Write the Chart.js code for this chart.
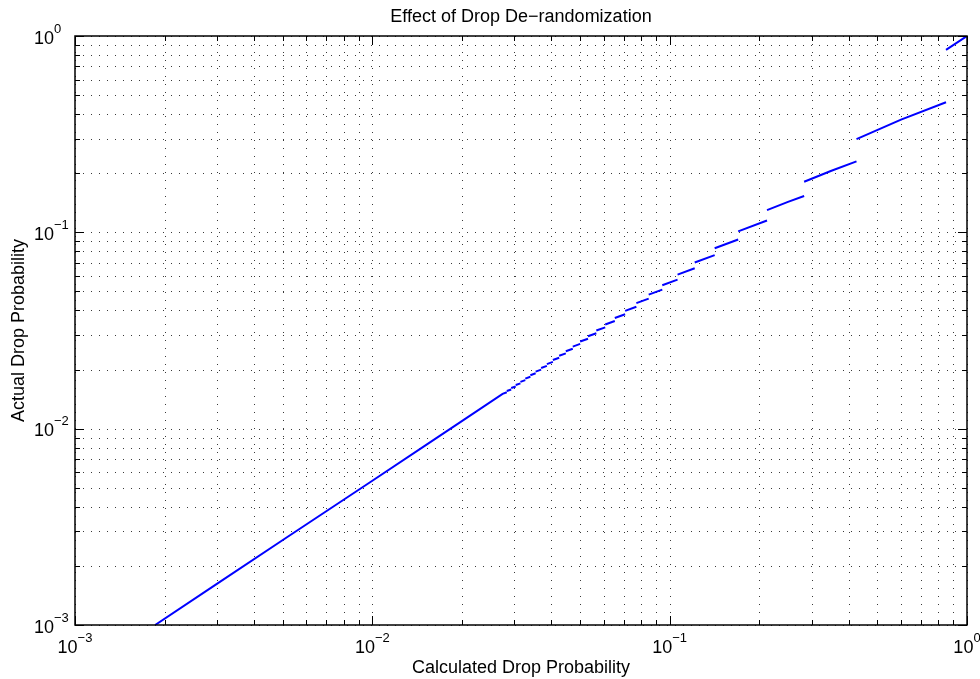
<!DOCTYPE html>
<html>
<head>
<meta charset="utf-8">
<title>Effect of Drop De-randomization</title>
<script src="https://cdn.jsdelivr.net/npm/chart.js@4.4.1/dist/chart.umd.min.js"></script>
<style>
  html, body { margin: 0; padding: 0; background: #fff; }
  #wrap { width: 980px; height: 679px; position: relative; }
</style>
</head>
<body>
<div id="wrap"><canvas id="derandChart"></canvas></div>
<script>
// calculated drop probability (x) and actual drop probability (y)
// a null in actualProb ends one piece of the curve
var calcProb = [
  0.00186, 0.003, 0.005, 0.01, 0.015, 0.02, 0.02742, 0.02833, 0.02833,
  0.02833, 0.02931, 0.02931,
  0.02931, 0.03036, 0.03036,
  0.03036, 0.03148, 0.03148,
  0.03148, 0.03269, 0.03269,
  0.03269, 0.034, 0.034,
  0.034, 0.03542, 0.03542,
  0.03542, 0.03696, 0.03696,
  0.03696, 0.03864, 0.03864,
  0.03864, 0.04048, 0.04048,
  0.04048, 0.0425, 0.0425,
  0.0425, 0.04474, 0.04474,
  0.04474, 0.04722, 0.04722,
  0.04722, 0.05, 0.05,
  0.05, 0.05313, 0.05313,
  0.05313, 0.05667, 0.05667,
  0.05667, 0.06071, 0.06071,
  0.06071, 0.06538, 0.06538,
  0.06538, 0.07083, 0.07083,
  0.07083, 0.07727, 0.07727,
  0.07727, 0.085, 0.085,
  0.085, 0.09444, 0.09444,
  0.09444, 0.1063, 0.1063,
  0.1063, 0.1214, 0.1214,
  0.1214, 0.1417, 0.1417,
  0.1417, 0.17, 0.17,
  0.17, 0.2125, 0.2125,
  0.2125, 0.25, 0.2833, 0.2833,
  0.2833, 0.35, 0.425, 0.425,
  0.425, 0.6, 0.85, 0.85,
  0.85, 1
];
var actualProb = [
  0.00100, 0.00162, 0.00271, 0.00543, 0.00817, 0.01092, 0.01504, 0.01532, null,
  0.01555, 0.01584, null,
  0.01610, 0.01641, null,
  0.01668, 0.01702, null,
  0.01731, 0.01767, null,
  0.01799, 0.01838, null,
  0.01872, 0.01914, null,
  0.01952, 0.01998, null,
  0.02038, 0.02089, null,
  0.02133, 0.02188, null,
  0.02237, 0.02297, null,
  0.02351, 0.02418, null,
  0.02478, 0.02553, null,
  0.02619, 0.02703, null,
  0.02778, 0.02872, null,
  0.02957, 0.03063, null,
  0.03160, 0.03282, null,
  0.03393, 0.03534, null,
  0.03664, 0.03829, null,
  0.03981, 0.04177, null,
  0.04359, 0.04595, null,
  0.04816, 0.05105, null,
  0.05380, 0.05743, null,
  0.06093, 0.06564, null,
  0.07025, 0.07658, null,
  0.08293, 0.09189, null,
  0.1012, 0.1149, null,
  0.1298, 0.1429, 0.1532, null,
  0.1809, 0.2059, 0.2297, null,
  0.2982, 0.375, 0.4595, null,
  0.85, 1
];

// axis decades and their exponents, minor steps inside each decade
var decades = [0.001, 0.01, 0.1, 1];
var decadeExp = ['\u22123', '\u22122', '\u22121', '0'];
var minorSteps = [2, 3, 4, 5, 6, 7, 8, 9];

var FONT = '"Liberation Sans", Arial, Helvetica, sans-serif';

var points = calcProb.map(function (x, i) {
  return { x: x, y: actualProb[i] };
});

// all tick positions: decades are major, the rest minor
var logTicks = [];
for (var d = 0; d < decades.length; d++) {
  logTicks.push({ v: decades[d], major: true });
  if (d < decades.length - 1) {
    minorSteps.forEach(function (m) {
      logTicks.push({ v: decades[d] * m, major: false });
    });
  }
}

// matlab style frame: dotted grid, inward ticks on every side, 10^n labels
var matlabAxes = {
  id: 'matlabAxes',
  beforeDatasetsDraw: function (chart) {
    var ctx = chart.ctx, a = chart.chartArea;
    var xs = chart.scales.x, ys = chart.scales.y;
    ctx.save();
    ctx.strokeStyle = '#3a3a3a';
    ctx.lineWidth = 1;
    ctx.setLineDash([1, 7]);
    logTicks.forEach(function (t) {
      var px = Math.round(xs.getPixelForValue(t.v)) + 0.5;
      ctx.beginPath();
      ctx.moveTo(px, a.top);
      ctx.lineTo(px, a.bottom);
      ctx.stroke();
      var py = Math.round(ys.getPixelForValue(t.v)) + 0.5;
      ctx.beginPath();
      ctx.moveTo(a.left, py);
      ctx.lineTo(a.right, py);
      ctx.stroke();
    });
    ctx.restore();
  },
  afterDatasetsDraw: function (chart) {
    var ctx = chart.ctx, a = chart.chartArea;
    var xs = chart.scales.x, ys = chart.scales.y;
    ctx.save();
    ctx.setLineDash([]);
    ctx.strokeStyle = '#000';

    // ticks
    ctx.lineWidth = 1;
    logTicks.forEach(function (t) {
      var len = t.major ? 9 : 5;
      var px = Math.round(xs.getPixelForValue(t.v)) + 0.5;
      var py = Math.round(ys.getPixelForValue(t.v)) + 0.5;
      ctx.beginPath();
      ctx.moveTo(px, a.bottom); ctx.lineTo(px, a.bottom - len);
      ctx.moveTo(px, a.top); ctx.lineTo(px, a.top + len);
      ctx.moveTo(a.left, py); ctx.lineTo(a.left + len, py);
      ctx.moveTo(a.right, py); ctx.lineTo(a.right - len, py);
      ctx.stroke();
    });

    // box
    ctx.lineWidth = 1.5;
    ctx.strokeRect(a.left, a.top, a.right - a.left, a.bottom - a.top);

    // tick labels
    ctx.fillStyle = '#000';
    ctx.textBaseline = 'alphabetic';
    ctx.textAlign = 'left';
    decades.forEach(function (v, i) {
      ctx.font = '18px ' + FONT;
      var wBase = ctx.measureText('10').width;
      ctx.font = '13px ' + FONT;
      var wExp = ctx.measureText(decadeExp[i]).width;

      var px = xs.getPixelForValue(v);
      var sx = px - (wBase + wExp) / 2;
      ctx.font = '18px ' + FONT;
      ctx.fillText('10', sx, a.bottom + 28);
      ctx.font = '13px ' + FONT;
      ctx.fillText(decadeExp[i], sx + wBase, a.bottom + 17);

      var py = ys.getPixelForValue(v);
      ctx.font = '18px ' + FONT;
      ctx.fillText('10', 34, py + 7.5);
      ctx.font = '13px ' + FONT;
      ctx.fillText(decadeExp[i], 34 + wBase, py - 3.5);
    });

    // title and axis labels
    var cx = (a.left + a.right) / 2;
    var cy = (a.top + a.bottom) / 2;
    ctx.font = '18px ' + FONT;
    ctx.textAlign = 'center';
    ctx.fillText('Effect of Drop De\u2212randomization', cx, 22);
    ctx.fillText('Calculated Drop Probability', cx, 673);
    ctx.translate(24, cy);
    ctx.rotate(-Math.PI / 2);
    ctx.fillText('Actual Drop Probability', 0, 0);
    ctx.restore();
  }
};

var ctx = document.getElementById('derandChart');
var derandChart = new Chart(ctx, {
  type: 'line',
  data: {
    datasets: [{
      label: 'actual',
      data: points,
      borderColor: '#0000ff',
      backgroundColor: '#0000ff',
      borderWidth: 2,
      pointRadius: 0,
      tension: 0,
      fill: false,
      spanGaps: false
    }]
  },
  options: {
    responsive: true,
    maintainAspectRatio: false,
    animation: false,
    layout: { padding: { left: 75, right: 13, top: 36, bottom: 54 } },
    plugins: {
      legend: { display: false },
      tooltip: { enabled: false },
      title: { display: false }
    },
    scales: {
      x: { type: 'logarithmic', min: 0.001, max: 1, display: false },
      y: { type: 'logarithmic', min: 0.001, max: 1, display: false }
    }
  },
  plugins: [matlabAxes]
});
</script>
</body>
</html>
